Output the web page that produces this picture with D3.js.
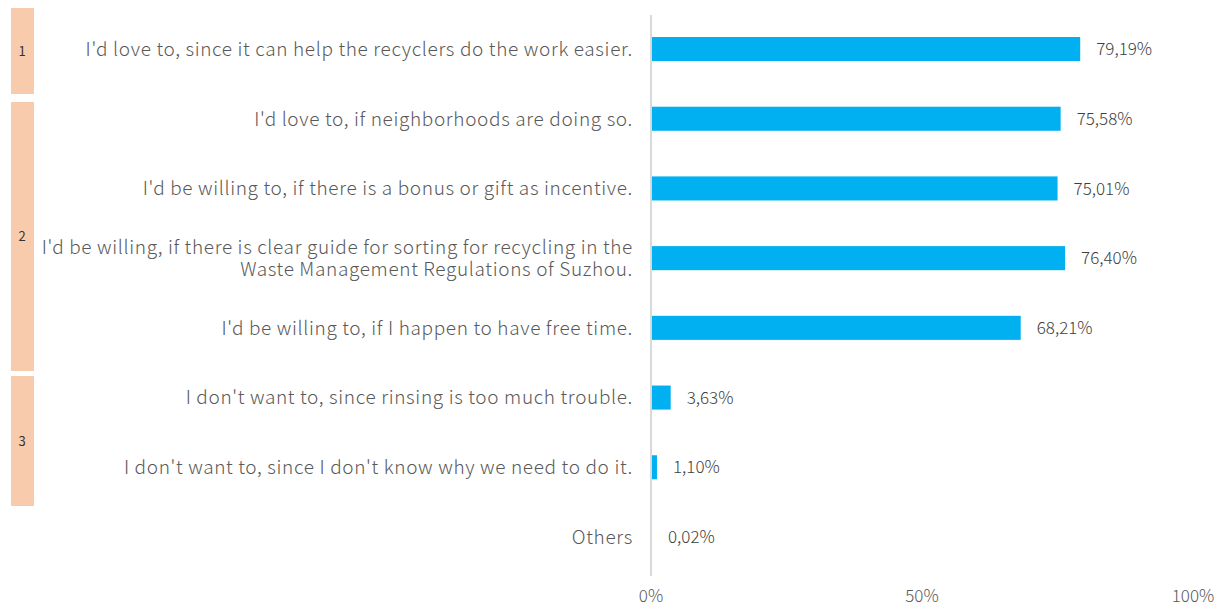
<!DOCTYPE html>
<html>
<head>
<meta charset="utf-8">
<script src="https://cdn.jsdelivr.net/npm/d3@7"></script>
<style>
  html, body { margin: 0; padding: 0; background: #fff; }
  svg { display: block; }
  text { font-family: "Noto Sans CJK SC", "Noto Sans", sans-serif; }
</style>
</head>
<body>
<svg id="chart" width="1228" height="607"></svg>
<script>
// Survey answers, top to bottom
const categories = [
  ["I'd love to, since it can help the recyclers do the work easier."],
  ["I'd love to, if neighborhoods are doing so."],
  ["I'd be willing to, if there is a bonus or gift as incentive."],
  ["I'd be willing, if there is clear guide for sorting for recycling in the", "Waste Management Regulations of Suzhou."],
  ["I'd be willing to, if I happen to have free time."],
  ["I don't want to, since rinsing is too much trouble."],
  ["I don't want to, since I don't know why we need to do it."],
  ["Others"]
];
const values = [79.19, 75.58, 75.01, 76.40, 68.21, 3.63, 1.10, 0.02];
const valueLabels = ["79,19%", "75,58%", "75,01%", "76,40%", "68,21%", "3,63%", "1,10%", "0,02%"];
const axisTicks = [0, 50, 100];
const tickLabels = ["0%", "50%", "100%"];
// Groups of answers: label and the pixel span of each bracket box
const groupLabels = ["1", "2", "3"];
const groupTop = [8, 102, 376];
const groupBottom = [94, 371, 506];

const svg = d3.select("#chart");

const x = d3.scaleLinear().domain([0, 100]).range([651, 1193]);
const y = d3.scaleBand()
  .domain(d3.range(categories.length))
  .range([14, 572])
  .paddingInner(0.655)
  .paddingOuter(0.33);

// vertical baseline
svg.append("line")
  .attr("x1", x(0)).attr("x2", x(0))
  .attr("y1", 15).attr("y2", 576)
  .attr("stroke", "#d9d9d9").attr("stroke-width", 2);

// bars
svg.append("g").selectAll("rect")
  .data(values)
  .join("rect")
  .attr("x", x(0) + 1)
  .attr("y", (d, i) => y(i))
  .attr("width", d => Math.max(0, x(d) - x(0) - 1))
  .attr("height", y.bandwidth())
  .attr("fill", "#00b0f0");

// value labels
svg.append("g").selectAll("text")
  .data(values)
  .join("text")
  .attr("x", d => Math.max(x(d), x(0) + 1) + 16)
  .attr("y", (d, i) => y(i) + y.bandwidth() / 2)
  .attr("dy", "0.36em")
  .attr("font-size", 17)
  .attr("fill", "#404040")
  .attr("font-weight", 300)
  .text((d, i) => valueLabels[i]);

// category labels
const cat = svg.append("g").selectAll("text")
  .data(categories)
  .join("text")
  .attr("text-anchor", "end")
  .attr("font-size", 19)
  .attr("font-weight", 300)
  .attr("letter-spacing", 0.65)
  .attr("fill", "#595959")
  .attr("y", (d, i) => y(i) + y.bandwidth() / 2);
cat.each(function (lines) {
  const t = d3.select(this);
  const n = lines.length;
  lines.forEach((ln, k) => {
    t.append("tspan")
      .attr("x", 633)
      .attr("dy", k === 0 ? `${0.36 - (n - 1) * 0.6}em` : "1.2em")
      .text(ln);
  });
});

// x axis tick labels
svg.append("g").selectAll("text")
  .data(axisTicks)
  .join("text")
  .attr("x", d => x(d))
  .attr("y", 596)
  .attr("dy", "0.36em")
  .attr("text-anchor", "middle")
  .attr("font-size", 17)
  .attr("font-weight", 300)
  .attr("fill", "#595959")
  .text((d, i) => tickLabels[i]);

// group boxes on the left
const boxes = svg.append("g");
groupLabels.forEach((lab, i) => {
  const top = groupTop[i];
  const bottom = groupBottom[i];
  boxes.append("rect")
    .attr("x", 11).attr("y", top)
    .attr("width", 23).attr("height", bottom - top)
    .attr("fill", "#f8cbad");
  boxes.append("text")
    .attr("x", 22).attr("y", (top + bottom) / 2)
    .attr("dy", "0.36em")
    .attr("text-anchor", "middle")
    .attr("font-size", 13)
    .attr("fill", "#333")
    .text(lab);
});
</script>
</body>
</html>
